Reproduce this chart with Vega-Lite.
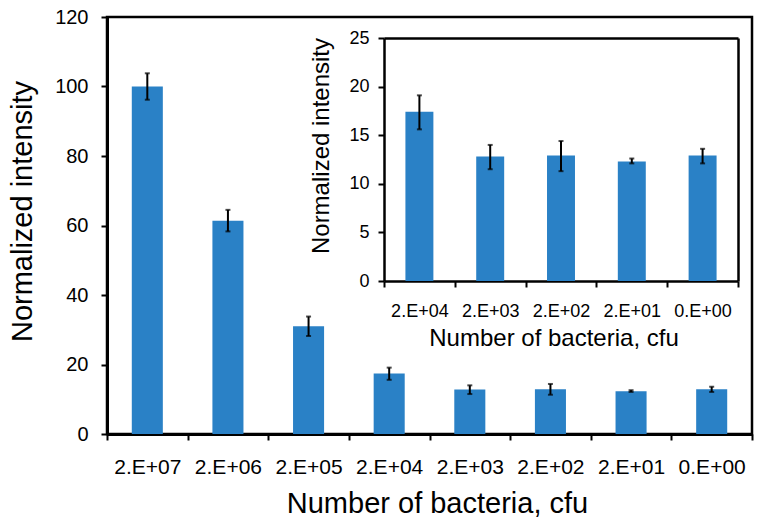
{
  "$schema": "https://vega.github.io/schema/vega-lite/v6.json",
  "width": 645,
  "height": 417,
  "autosize": "none",
  "padding": {"left": 107, "top": 17, "right": 12, "bottom": 90},
  "background": "white",
  "config": {
    "font": "Liberation Sans",
    "view": {"stroke": "black", "strokeWidth": 2.5},
    "axis": {"grid": false, "domainColor": "black", "tickColor": "black", "labelColor": "black", "titleColor": "black", "titleFontWeight": "normal", "labelFont": "Liberation Sans", "titleFont": "Liberation Sans"}
  },
  "datasets": {
    "main": [
      {"n": "2.E+07", "v": 100, "lo": 96.2, "hi": 103.8},
      {"n": "2.E+06", "v": 61.4, "lo": 58.3, "hi": 64.5},
      {"n": "2.E+05", "v": 31.0, "lo": 28.2, "hi": 33.8},
      {"n": "2.E+04", "v": 17.4, "lo": 15.6, "hi": 19.1},
      {"n": "2.E+03", "v": 12.8, "lo": 11.5, "hi": 14.0},
      {"n": "2.E+02", "v": 12.9, "lo": 11.3, "hi": 14.4},
      {"n": "2.E+01", "v": 12.3, "lo": 12.1, "hi": 12.6},
      {"n": "0.E+00", "v": 12.9, "lo": 12.1, "hi": 13.6}
    ],
    "inset": [
      {"n": "2.E+04", "v": 17.4, "lo": 15.6, "hi": 19.1},
      {"n": "2.E+03", "v": 12.8, "lo": 11.5, "hi": 14.0},
      {"n": "2.E+02", "v": 12.9, "lo": 11.3, "hi": 14.4},
      {"n": "2.E+01", "v": 12.3, "lo": 12.1, "hi": 12.6},
      {"n": "0.E+00", "v": 12.9, "lo": 12.1, "hi": 13.6}
    ]
  },
  "layer": [
    {
      "data": {"name": "main"},
      "encoding": {
        "x": {"field": "n", "type": "nominal", "sort": null,
              "scale": {"paddingInner": 0, "paddingOuter": 0}}
      },
      "layer": [
        {
          "mark": {"type": "bar", "color": "#2A81C6", "width": {"band": 0.385}},
          "encoding": {
            "x": {"field": "n", "type": "nominal", "sort": null,
                  "axis": {"orient": "bottom", "title": "Number of bacteria, cfu", "titleFontSize": 29,
                           "labelFontSize": 21, "labelAngle": 0, "labelPadding": 16, "tickSize": 6, "tickWidth": 2,
                           "domainWidth": 3, "tickBand": "extent", "titleX": 330, "titleY": 78, "titleBaseline": "alphabetic", "titleAlign": "center"}},
            "y": {"field": "v", "type": "quantitative", "scale": {"domain": [0, 120], "nice": false},
                  "axis": {"orient": "left", "title": "Normalized intensity", "titleFontSize": 29, "values": [0, 20, 40, 60, 80, 100, 120],
                           "labelFontSize": 20, "labelPadding": 13, "tickSize": 6, "tickWidth": 2, "domainWidth": 3,
                           "titleX": -76, "titleY": 194, "titleBaseline": "alphabetic", "titleAlign": "center", "titleAngle": -90}}
          }
        },
        {
          "mark": {"type": "rule", "color": "black", "strokeWidth": 2},
          "encoding": {"y": {"field": "lo", "type": "quantitative"}, "y2": {"field": "hi"}}
        },
        {
          "mark": {"type": "tick", "orient": "horizontal", "color": "black", "size": 5, "thickness": 2},
          "encoding": {"y": {"field": "lo", "type": "quantitative"}}
        },
        {
          "mark": {"type": "tick", "orient": "horizontal", "color": "black", "size": 5, "thickness": 2},
          "encoding": {"y": {"field": "hi", "type": "quantitative"}}
        }
      ]
    },
    {
      "data": {"name": "inset"},
      "encoding": {
        "x": {"field": "n", "type": "nominal", "sort": null,
              "scale": {"paddingInner": 0, "paddingOuter": 0, "range": [277, 631]}},
        "y": {"field": "v", "type": "quantitative", "scale": {"domain": [0, 25], "nice": false, "range": [264, 21]}}
      },
      "resolve": {"axis": {"x": "independent", "y": "independent"}},
      "layer": [
        {
          "mark": {"type": "bar", "color": "#2A81C6", "width": {"band": 0.395}},
          "encoding": {
            "x": {"field": "n", "type": "nominal", "sort": null,
                  "axis": {"orient": "bottom", "offset": -153, "title": "Number of bacteria, cfu", "titleFontSize": 24,
                           "labelFontSize": 18, "labelAngle": 0, "labelPadding": 15, "tickSize": 6, "tickWidth": 2,
                           "domainWidth": 2.5, "tickBand": "extent", "titleX": 446.5, "titleY": 64, "titleBaseline": "alphabetic", "titleAlign": "center"}},
            "y": {"field": "v", "type": "quantitative",
                  "axis": {"orient": "left", "offset": -277, "title": "Normalized intensity", "titleFontSize": 24, "values": [0, 5, 10, 15, 20, 25],
                           "labelFontSize": 18, "labelPadding": 9, "tickSize": 6, "tickWidth": 2, "domainWidth": 2.5,
                           "titleX": -56, "titleY": 128.5, "titleBaseline": "alphabetic", "titleAlign": "center", "titleAngle": -90}}
          }
        },
        {
          "mark": {"type": "rule", "color": "black", "strokeWidth": 2},
          "encoding": {
            "x": {"field": "n", "type": "nominal", "sort": null,
                  "axis": {"orient": "top", "offset": -21, "labels": false, "ticks": false, "title": null, "domainWidth": 2.5}},
            "y": {"field": "lo", "type": "quantitative",
                  "axis": {"orient": "right", "offset": -14, "labels": false, "ticks": false, "title": null, "domainWidth": 2.5}},
            "y2": {"field": "hi"}
          }
        },
        {
          "mark": {"type": "tick", "orient": "horizontal", "color": "black", "size": 5, "thickness": 2},
          "encoding": {"x": {"field": "n", "type": "nominal", "sort": null, "axis": null}, "y": {"field": "lo", "type": "quantitative", "axis": null}}
        },
        {
          "mark": {"type": "tick", "orient": "horizontal", "color": "black", "size": 5, "thickness": 2},
          "encoding": {"x": {"field": "n", "type": "nominal", "sort": null, "axis": null}, "y": {"field": "hi", "type": "quantitative", "axis": null}}
        }
      ]
    }
  ],
  "resolve": {"scale": {"x": "independent", "y": "independent"}}
}
